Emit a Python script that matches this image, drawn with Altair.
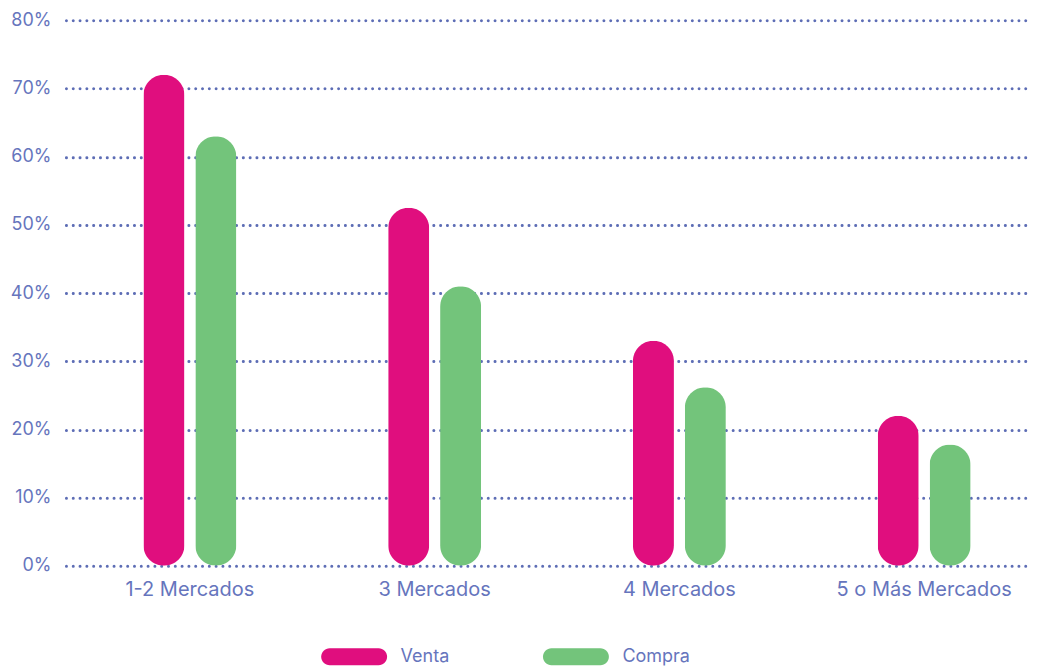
import altair as alt
import pandas as pd

categories = ["1-2 Mercados", "3 Mercados", "4 Mercados", "5 o Más Mercados"]
series = ["Venta", "Compra"]
venta = [0.72, 0.525, 0.33, 0.22]
compra = [0.63, 0.41, 0.262, 0.178]
y_ticks = [0, 0.1, 0.2, 0.3, 0.4, 0.5, 0.6, 0.7, 0.8]
colors = ["#E00E7E", "#73C47B"]

rows = []
for i, c in enumerate(categories):
    rows.append({"cat": c, "serie": "Venta", "val": venta[i]})
    rows.append({"cat": c, "serie": "Compra", "val": compra[i]})
df = pd.DataFrame(rows)

TXT = "#6675BD"
GRID = "#5D6DB5"
FONT = "Inter"

# pill shape: 66 x 17 px at symbolSize 289 (scale 8.5), starting at the entry's left edge
pill = "M 0 -1 L 5.76 -1 A 1 1 0 0 1 5.76 1 L 0 1 A 1 1 0 0 1 0 -1 Z"

chart = alt.Chart(df).mark_bar(cornerRadius=20.5).encode(
    x=alt.X("cat:N", sort=categories, title=None,
            scale=alt.Scale(paddingInner=0.6204, paddingOuter=0.2796, align=0.566),
            axis=alt.Axis(labelAngle=0, labelFontSize=20, labelColor=TXT, labelFont=FONT,
                          labelPadding=14, domain=False, ticks=False, grid=False)),
    xOffset=alt.XOffset("serie:N", sort=series, scale=alt.Scale(paddingInner=0.21, paddingOuter=0)),
    y=alt.Y("val:Q", title=None,
            scale=alt.Scale(domain=[0, 0.8], nice=False),
            axis=alt.Axis(values=y_ticks, format=".0%", labelFontSize=18, labelColor=TXT,
                          labelFont=FONT, labelPadding=15, domain=False, ticks=False,
                          grid=True, gridColor=GRID, gridWidth=3, gridDash=[0.01, 6.8],
                          gridCap="round", gridOpacity=1)),
    color=alt.Color("serie:N", sort=series,
                    scale=alt.Scale(domain=series, range=colors),
                    legend=alt.Legend(title=None, orient="none", legendX=255, legendY=628,
                                      direction="horizontal", symbolType=pill,
                                      symbolSize=289, symbolStrokeWidth=0, symbolOpacity=1,
                                      labelFontSize=18, labelColor=TXT, labelFont=FONT,
                                      labelOffset=62, columnPadding=93, padding=0)),
).properties(width=965, height=546, padding={"top": 3, "left": 2, "right": 0, "bottom": 0}
).configure_view(stroke=None)

chart.save("out.html", embed_options={"renderer": "svg", "actions": False})
